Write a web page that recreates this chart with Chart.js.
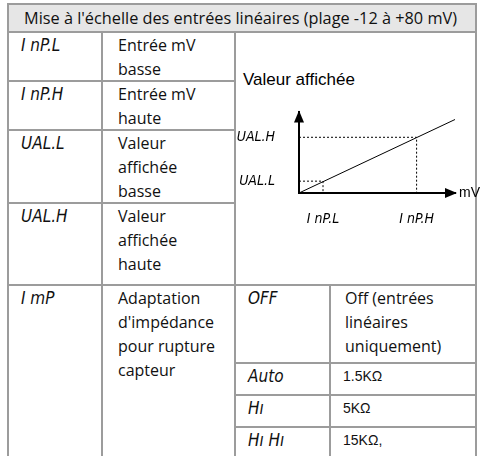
<!DOCTYPE html>
<html>
<head>
<meta charset="utf-8">
<script src="https://cdn.jsdelivr.net/npm/chart.js@4.4.1/dist/chart.umd.min.js"></script>
<style>
  html, body { margin: 0; padding: 0; background: #fff; }
  body { width: 480px; height: 456px; position: relative; overflow: hidden; }
  #tbl {
    position: absolute; left: 7px; top: 3px; width: 470px; box-sizing: border-box;
    display: grid;
    grid-template-columns: 92px 131px 93px 144px;
    grid-template-rows: 26px 47px 47px 71px 80px 76px 30px 30px 30px;
    gap: 2px; padding: 2px; background: #9c9c9c;
    font-family: "Open Sans", "Noto Sans", sans-serif; font-size: 16px; color: #111;
  }
  .c { background: #fff; line-height: 24px; white-space: nowrap; }
  .hd { grid-column: 1 / 5; background: #e6e6e6; padding-left: 15px; line-height: 26px; font-size: 16.3px; }
  .code { font-family: "DejaVu Sans Condensed", sans-serif; font-style: italic; font-size: 17px; padding-left: 12px; }
  .txt { padding-left: 15px; }
  .val { padding-left: 14px; }
  .ohm { font-family: "Liberation Sans", Arial, sans-serif; font-size: 14px; padding-left: 12px; }
  #diag { grid-column: 3 / 5; grid-row: 2 / 6; }
  #yTitle { position: absolute; left: 243px; top: 70px; font: 17px "Liberation Sans", Arial, sans-serif; color: #000; }
  #chartBox { position: absolute; left: 236px; top: 88px; width: 244px; height: 145px; }
</style>
</head>
<body>
<div id="tbl">
  <div class="c hd">Mise à l'échelle des entrées linéaires (plage -12 à +80 mV)</div>
  <div class="c code">I nP.L</div><div class="c txt">Entrée mV<br>basse</div>
  <div class="c" id="diag"></div>
  <div class="c code">I nP.H</div><div class="c txt">Entrée mV<br>haute</div>
  <div class="c code">UAL.L</div><div class="c txt">Valeur<br>affichée<br>basse</div>
  <div class="c code">UAL.H</div><div class="c txt">Valeur<br>affichée<br>haute</div>
  <div class="c code" style="grid-row: 6 / 10;">I mP</div>
  <div class="c txt" style="grid-row: 6 / 10;">Adaptation<br>d'impédance<br>pour rupture<br>capteur</div>
  <div class="c code">OFF</div><div class="c val">Off (entrées<br>linéaires<br>uniquement)</div>
  <div class="c code">Auto</div><div class="c ohm">1.5KΩ</div>
  <div class="c code">Hı</div><div class="c ohm">5KΩ</div>
  <div class="c code">Hı Hı</div><div class="c ohm">15KΩ,</div>
</div>
<div id="yTitle">Valeur affichée</div>
<div id="chartBox"><canvas id="scaleChart"></canvas></div>

<script>
// diagram values (arbitrary units)
const xTickVals = [1, 4.9];
const xTickLabels = ["I nP.L", "I nP.H"];
const yTickVals = [1, 4.7];
const yTickLabels = ["UAL.L", "UAL.H"];
const lineX = [0, 6.5];
const lineY = [0, 6.2];
const xMax = 6.5;
const yMax = 6.8;

const codeFont = { family: '"DejaVu Sans Condensed", sans-serif', size: 14, style: "italic" };

// dotted guides from each axis to the line
function guide(i) {
    return [
        { x: 0, y: yTickVals[i] },
        { x: xTickVals[i], y: yTickVals[i] },
        { x: xTickVals[i], y: 0 }
    ];
}

// arrow heads + "mV" label
const arrowPlugin = {
    id: "arrows",
    afterDraw(chart) {
        const { ctx, chartArea: a } = chart;
        ctx.save();
        ctx.fillStyle = "#000";
        ctx.beginPath();
        ctx.moveTo(a.left, a.top - 2);
        ctx.lineTo(a.left - 5, a.top + 10);
        ctx.lineTo(a.left + 5, a.top + 10);
        ctx.closePath();
        ctx.fill();
        ctx.beginPath();
        ctx.moveTo(a.right + 2, a.bottom);
        ctx.lineTo(a.right - 10, a.bottom - 5);
        ctx.lineTo(a.right - 10, a.bottom + 5);
        ctx.closePath();
        ctx.fill();
        ctx.font = '14px "Liberation Sans", Arial, sans-serif';
        ctx.textBaseline = "middle";
        ctx.fillText("mV", a.right + 4, a.bottom);
        ctx.restore();
    }
};

const ctx = document.getElementById("scaleChart").getContext("2d");
new Chart(ctx, {
    type: "scatter",
    data: {
        datasets: [
            {
                data: lineX.map((x, i) => ({ x: x, y: lineY[i] })),
                showLine: true, borderColor: "#000", borderWidth: 1, pointRadius: 0
            },
            {
                data: guide(0),
                showLine: true, borderColor: "#000", borderWidth: 1, borderDash: [2, 2], pointRadius: 0
            },
            {
                data: guide(1),
                showLine: true, borderColor: "#000", borderWidth: 1, borderDash: [2, 2], pointRadius: 0
            }
        ]
    },
    options: {
        responsive: true,
        maintainAspectRatio: false,
        animation: false,
        layout: { padding: { top: 12, right: 25, left: 0, bottom: 0 } },
        plugins: { legend: { display: false }, tooltip: { enabled: false } },
        scales: {
            x: {
                type: "linear", min: 0, max: xMax,
                grid: { display: false },
                border: { display: true, color: "#000", width: 2 },
                afterBuildTicks: s => { s.ticks = xTickVals.map(v => ({ value: v })); },
                afterFit: s => { s.height = 40; },
                ticks: {
                    color: "#000", font: codeFont, padding: 10, maxRotation: 0,
                    callback: v => xTickLabels[xTickVals.indexOf(v)]
                }
            },
            y: {
                type: "linear", min: 0, max: yMax,
                grid: { display: false },
                border: { display: true, color: "#000", width: 2 },
                afterBuildTicks: s => { s.ticks = yTickVals.map(v => ({ value: v })); },
                afterFit: s => { s.width = 63; },
                ticks: {
                    color: "#000", font: codeFont, padding: 16,
                    callback: v => yTickLabels[yTickVals.indexOf(v)]
                }
            }
        }
    },
    plugins: [arrowPlugin]
});
</script>
</body>
</html>
